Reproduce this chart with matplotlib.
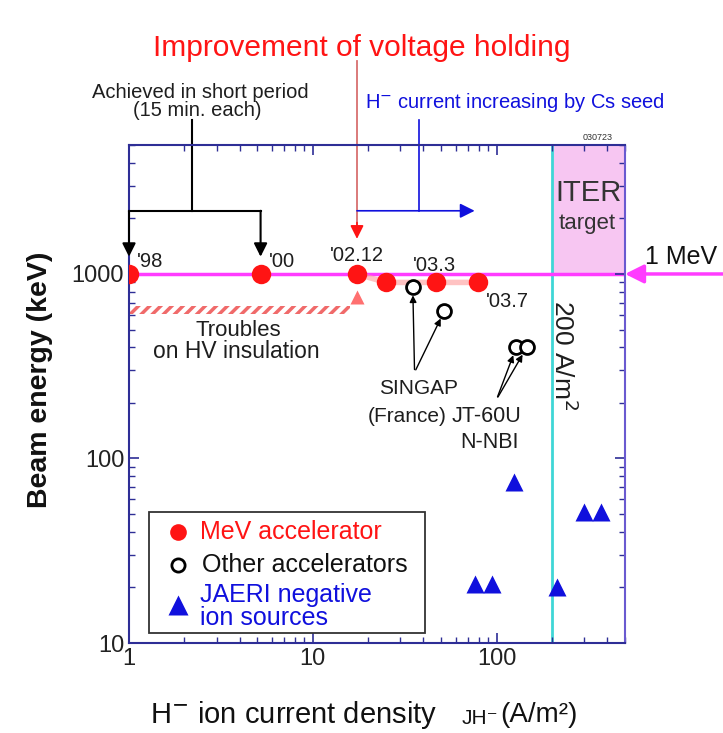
import numpy as np
import matplotlib
matplotlib.use("Agg")
import matplotlib.pyplot as plt
from matplotlib.patches import Rectangle

plt.rcParams["font.family"] = ["Liberation Sans", "DejaVu Sans"]
plt.rcParams["hatch.linewidth"] = 2.5

# ── data ─────────────────────────────────────────────────────────────────────
mev_j      = [1.0, 5.2, 17.4, 25.0, 47.0, 79.0]          # A/m2
mev_e      = [1000, 1000, 1000, 900, 900, 900]           # keV
mev_labels = ["'98", "'00", "'02.12", "", "'03.3", "'03.7"]

other_j = [35.0, 52.0, 128.0, 146.0]
other_e = [850, 630, 400, 400]

jaeri_j = [76.0, 94.0, 125.0, 212.0, 301.0, 372.0]
jaeri_e = [21, 21, 75, 20, 51, 51]

iter_j = [200, 500]          # ITER target window (A/m2)
iter_e = [1000, 5000]        # keV
hv_trouble_j = [1.0, 15.9]   # troubles on HV insulation
hv_trouble_e = [610, 670]

W, H = 723, 733
RED, BLUE, MAG, CYAN = "#ff1414", "#1010dd", "#ff3cff", "#3fd6d6"
NAVY = "#2e2e96"
INK = "#1e1e1e"


def fpx(x, y):
    """image pixel -> figure fraction"""
    return x / W, 1 - y / H


def ftext(x, y, s, **kw):
    kw.setdefault("ha", "center")
    kw.setdefault("va", "center")
    kw.setdefault("color", INK)
    return fig.text(*fpx(x, y), s, **kw)


fig = plt.figure(figsize=(W / 100, H / 100), dpi=100)
ax = fig.add_axes([129 / W, 1 - 643 / H, 496 / W, 498 / H])
ax.set_xscale("log")
ax.set_yscale("log")
ax.set_xlim(1, 500)
ax.set_ylim(10, 5000)

# ITER window + 200 A/m2 line + 1 MeV line
ax.fill_between(iter_j, iter_e[0], iter_e[1], color="#f7c6f2", lw=0, zorder=0)
ax.axvline(iter_j[0], color=CYAN, lw=2, zorder=1)
ax.axhline(1000, color=MAG, lw=2.5, zorder=1)

# troubles on HV insulation (hatched strip)
ax.fill_between(hv_trouble_j, hv_trouble_e[0], hv_trouble_e[1], facecolor="none",
                edgecolor="#f06a6a", hatch="///", lw=0, zorder=1)
ax.plot([mev_j[2]], [750], marker="^", ms=10, color="#ff7070", mec="none", zorder=2)
ftext(238, 330, "Troubles", fontsize=16)
ftext(236, 352, "on HV insulation", fontsize=16.5)

# faint trend through the latest MeV points
ax.plot(mev_j[2:], mev_e[2:], color="#ff9a9a", lw=4, alpha=0.6, zorder=2)

ax.plot(mev_j, mev_e, "o", ms=14, color=RED, mec="none", zorder=4)
ax.plot(other_j, other_e, "o", ms=10, mfc="white", mec="black", mew=2, zorder=4)
ax.plot(jaeri_j, jaeri_e, "^", ms=13, color=BLUE, mec="none", zorder=4)

label_off = [(6, 9), (6, 9), (0, 13), None, (-1, 12), (6, -14)]
for j, e, lab, off in zip(mev_j, mev_e, mev_labels, label_off):
    if not lab:
        continue
    ha = "center" if off[0] <= 0 else "left"
    ax.annotate(lab, (j, e), xytext=off, textcoords="offset points",
                ha=ha, va="center", fontsize=14.5, color=INK, zorder=5)

# labels for other accelerators
arrow_k = dict(arrowstyle="-|>", color="black", lw=1, mutation_scale=10, shrinkB=6)
for j, e in zip(other_j[:2], other_e[:2]):
    ax.annotate("", (j, e), xytext=(35.8, 293), arrowprops=arrow_k, zorder=3)
for j, e in zip(other_j[2:], other_e[2:]):
    ax.annotate("", (j, e), xytext=(100, 209), arrowprops=arrow_k, zorder=3)
ftext(419, 388, "SINGAP", fontsize=15)
ftext(407, 417, "(France)", fontsize=15)
ftext(486, 417, "JT-60U", fontsize=15.5)
ftext(489, 442, "N-NBI", fontsize=15.5)

ftext(563, 355, "200 A/m$^2$", rotation=-90, fontsize=19)
ftext(588, 193, "ITER", fontsize=21, color="#333333")
ftext(587, 224, "target", fontsize=16, color="#333333")
ftext(598, 138, "030723", fontsize=6.5, color="#333333")

# 1 MeV arrow from outside the frame
ax.annotate("", (500, 1000), xytext=(1700, 1000), annotation_clip=False,
            arrowprops=dict(arrowstyle="-|>", color=MAG, lw=2.5, mutation_scale=28,
                            shrinkA=0, shrinkB=0))
ftext(645, 257, "1 MeV", ha="left", fontsize=18, color="#111111")

# black bracket: achieved in short period
ax.plot([2.2, 2.2], [6800, 2200], color="black", lw=1.5, clip_on=False)
ax.plot([mev_j[0], mev_j[1]], [2200, 2200], color="black", lw=1.5, clip_on=False)
for j in mev_j[:2]:
    ax.annotate("", (j, 1240), xytext=(j, 2200), annotation_clip=False,
                arrowprops=dict(arrowstyle="-|>", color="black", lw=1.5,
                                mutation_scale=20, shrinkA=0, shrinkB=0))
ftext(200, 92, "Achieved in short period", fontsize=14.5)
ftext(197, 111, "(15 min. each)", fontsize=14.5)

# red arrow: improvement of voltage holding (pale stem, red head)
ax.plot([mev_j[2], mev_j[2]], [14200, 1800], color="#d87070", lw=1.3, clip_on=False)
ax.annotate("", (mev_j[2], 1550), xytext=(mev_j[2], 1900), annotation_clip=False,
            arrowprops=dict(arrowstyle="-|>", color=RED, lw=1.2, mutation_scale=20,
                            shrinkA=0, shrinkB=0))
ftext(362, 48, "Improvement of voltage holding", fontsize=21.5, color=RED)

# blue arrow: Cs seed
ax.plot([38, 38], [6800, 2200], color=BLUE, lw=1.2, clip_on=False)
ax.annotate("", (76, 2200), xytext=(mev_j[2], 2200), annotation_clip=False,
            arrowprops=dict(arrowstyle="-|>", color=BLUE, lw=1.2, mutation_scale=22,
                            shrinkA=0, shrinkB=0))
ftext(365, 102, "H$^{-}$ current increasing by Cs seed", ha="left", fontsize=14.5,
      color=BLUE)

# axes cosmetics
for s in ax.spines.values():
    s.set_color(NAVY)
    s.set_linewidth(1.5)
ax.spines["right"].set_color("#6a5ad0")
ax.tick_params(which="both", direction="in", top=True, right=True, color=NAVY)
ax.tick_params(which="major", length=7, width=1.2, labelsize=17, labelcolor="#222222")
ax.tick_params(which="minor", length=4, width=1)
ax.set_xticks([1, 10, 100])
ax.set_xticklabels(["1", "10", "100"])
ax.set_yticks([10, 100, 1000])
ax.set_yticklabels(["10", "100", "1000"])

ftext(40, 380, "Beam energy (keV)", rotation=90, fontsize=20.5, fontweight="bold",
      color="#111111")
ftext(150, 715, "H$^{-}$ ion current density", ha="left", fontsize=21, color="#111111")
ftext(462, 718, "JH\u207b", ha="left", fontsize=15, color="#111111")
ftext(500, 715, "(A/m\u00b2)", ha="left", fontsize=20, color="#111111")


# legend box drawn by hand (image-pixel placement)
def apx(x, y):
    return (x - 129) / 496, (643 - y) / 498


x0, y0 = apx(149, 633)
x1, y1 = apx(425, 512)
ax.add_patch(Rectangle((x0, y0), x1 - x0, y1 - y0, transform=ax.transAxes,
                       facecolor="white", edgecolor="#333333", lw=1.3, zorder=6))
ax.plot(*apx(178, 532), "o", ms=12, color=RED, mec="none", transform=ax.transAxes,
        zorder=7)
ax.plot(*apx(178, 565), "o", ms=9.5, mfc="white", mec="black", mew=2,
        transform=ax.transAxes, zorder=7)
ax.plot(*apx(178, 605), "^", ms=14, color=BLUE, mec="none", transform=ax.transAxes,
        zorder=7)
ftext(200, 532, "MeV accelerator", ha="left", fontsize=18, color=RED, zorder=8)
ftext(202, 565, "Other accelerators", ha="left", fontsize=18, color="#111111", zorder=8)
ftext(200, 595, "JAERI negative", ha="left", fontsize=18, color=BLUE, zorder=8)
ftext(200, 618, "ion sources", ha="left", fontsize=18, color=BLUE, zorder=8)

fig.savefig("out.png", dpi=100)
